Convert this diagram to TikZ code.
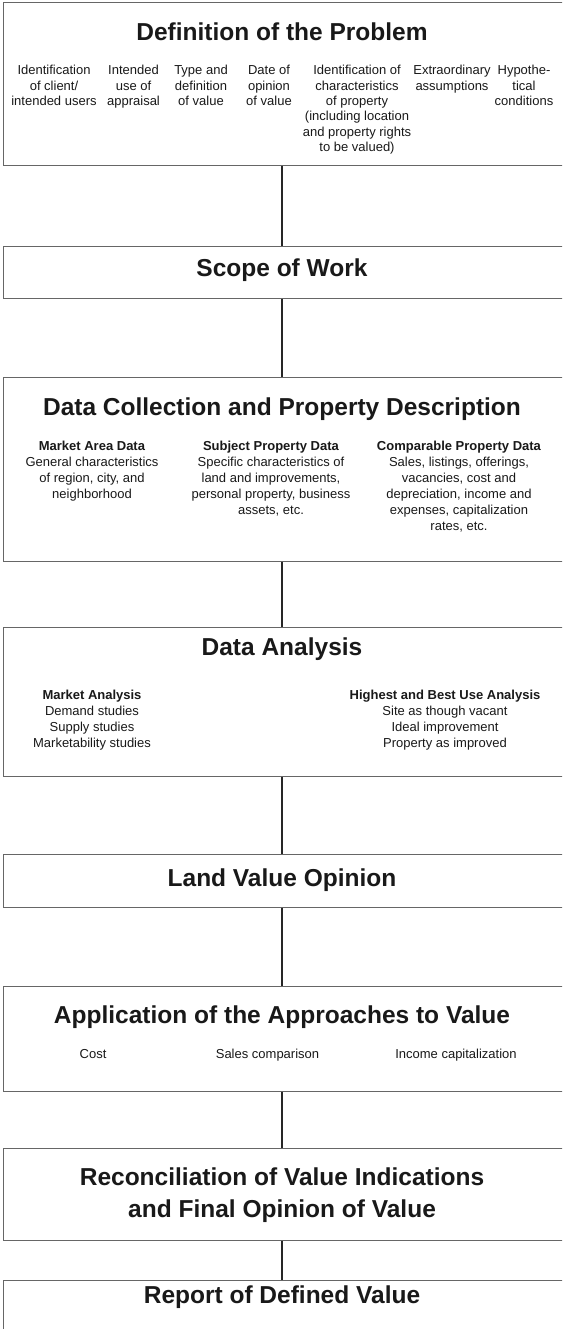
\documentclass[tikz,border=0pt]{standalone}
\usepackage{fontspec}
\setmainfont{Liberation Sans}
\begin{document}
\begin{tikzpicture}[x=1pt,y=-1pt,
  box/.style={draw=black!60, line width=0.9pt, rectangle, anchor=north west,
    minimum width=620pt, inner sep=0pt},
  ttl/.style={font=\fontsize{24.5}{32}\selectfont\bfseries, text=black!90,
    anchor=base, inner sep=0pt, align=center},
  txta/.style={font=\fontsize{13}{15.3}\selectfont, text=black!90,
    anchor=base, inner sep=0pt, align=center},
  txt/.style={font=\fontsize{13}{16}\selectfont, text=black!90,
    anchor=base, inner sep=0pt, align=center},
  conn/.style={line width=2pt, draw=black!85}]
\useasboundingbox (0,0) rectangle (562,1329);
\clip (0,0) rectangle (562,1329);
\fill[white] (0,0) rectangle (562,1329);
\coordinate (cx) at (282,0);

% boxes
\node[box, minimum height=163pt] (b1) at (3,2) {};
\node[box, minimum height=52pt]  (b2) at (3,246) {};
\node[box, minimum height=184pt] (b3) at (3,377) {};
\node[box, minimum height=149pt] (b4) at (3,627) {};
\node[box, minimum height=53pt]  (b5) at (3,854) {};
\node[box, minimum height=105pt] (b6) at (3,986) {};
\node[box, minimum height=92pt]  (b7) at (3,1148) {};
\node[box, minimum height=80pt]  (b8) at (3,1280) {};

% connectors
\draw[conn] (b1.south -| cx) -- (b2.north -| cx);
\draw[conn] (b2.south -| cx) -- (b3.north -| cx);
\draw[conn] (b3.south -| cx) -- (b4.north -| cx);
\draw[conn] (b4.south -| cx) -- (b5.north -| cx);
\draw[conn] (b5.south -| cx) -- (b6.north -| cx);
\draw[conn] (b6.south -| cx) -- (b7.north -| cx);
\draw[conn] (b7.south -| cx) -- (b8.north -| cx);

% box 1 (base anchor = baseline of last line)
\node[ttl] (t1) at (282,41) {Definition of the Problem};
\node[txta] (p1) at (54,105.6) {Identification\\of client/\\intended users};
\node[txta] (p2) at (133.5,105.6) {Intended\\use of\\appraisal};
\node[txta] (p3) at (201,105.6) {Type and\\definition\\of value};
\node[txta] (p4) at (269,105.6) {Date of\\opinion\\of value};
\node[txta] (p5) at (357,151.5) {Identification of\\characteristics\\of property\\(including location\\and property rights\\to be valued)};
\node[txta] (p6) at (452,90.3) {Extraordinary\\assumptions};
\node[txta] (p7) at (524,105.6) {Hypothe-\\tical\\conditions};

% box 2
\node[ttl] (t2) at (282,277) {Scope of Work};

% box 3
\node[ttl] (t3) at (282,415) {Data Collection and Property Description};
\node[txt] (d1) at (92,498) {\textbf{Market Area Data}\\General characteristics\\of region, city, and\\neighborhood};
\node[txt] (d2) at (271,514) {\textbf{Subject Property Data}\\Specific characteristics of\\land and improvements,\\personal property, business\\assets, etc.};
\node[txt] (d3) at (459,530) {\textbf{Comparable Property Data}\\Sales, listings, offerings,\\vacancies, cost and\\depreciation, income and\\expenses, capitalization\\rates, etc.};

% box 4
\node[ttl] (t4) at (282,655) {Data Analysis};
\node[txt] (a1) at (92,747) {\textbf{Market Analysis}\\Demand studies\\Supply studies\\Marketability studies};
\node[txt] (a2) at (445,747) {\textbf{Highest and Best Use Analysis}\\Site as though vacant\\Ideal improvement\\Property as improved};

% box 5
\node[ttl] (t5) at (282,886) {Land Value Opinion};

% box 6
\node[ttl] (t6) at (282,1023) {Application of the Approaches to Value};
\node[txt] (v1) at (93,1058) {Cost};
\node[txt] (v2) at (267.5,1058) {Sales comparison};
\node[txt] (v3) at (456,1058) {Income capitalization};

% box 7
\node[ttl] (t7) at (282,1217) {Reconciliation of Value Indications\\and Final Opinion of Value};

% box 8
\node[ttl] (t8) at (282,1303) {Report of Defined Value};
\end{tikzpicture}
\end{document}
